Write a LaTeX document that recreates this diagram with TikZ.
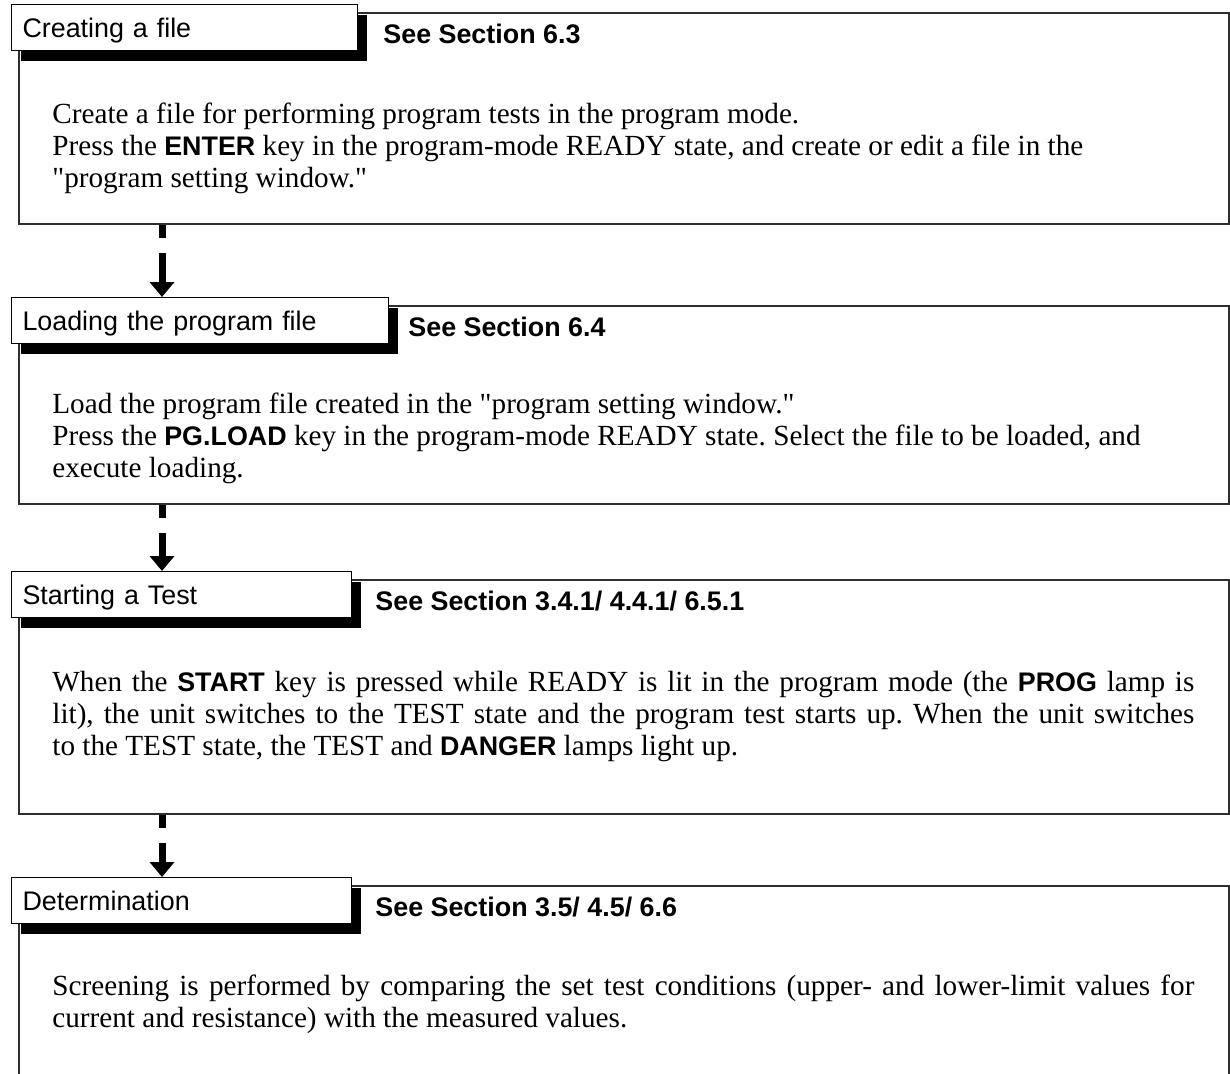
\documentclass[tikz,border=0pt]{standalone}
\usepackage{fontspec}
\setmainfont{Liberation Serif}[Ligatures=TeXOff]
\setsansfont{Liberation Sans}[Scale=0.92]
\usetikzlibrary{arrows.meta,shadows}

\definecolor{framegray}{HTML}{2E2E2E}
\newcommand\bodyfont{\fontsize{14.6pt}{16pt}\selectfont}
\newcommand\keyname[1]{\textsf{\bfseries #1}}
\setlength\parindent{0pt}
\frenchspacing

\tikzset{
  bodybox/.style={draw=framegray, line width=1pt, anchor=north west, minimum width=605pt, inner sep=0pt},
  tabbox/.style={draw=black, fill=white, line width=0.5pt, anchor=north west, text width=#1, align=left,
    minimum height=23pt, inner xsep=5.5pt, inner ysep=0pt, text height=10pt, text depth=0pt, font=\bodyfont\sffamily,
    drop shadow={shadow xshift=4.5pt, shadow yshift=-5pt, fill=black, opacity=1}},
  reftext/.style={anchor=base west, inner sep=0pt, font=\bodyfont\sffamily\bfseries},
  bodytext/.style={anchor=north west, inner sep=0pt, text width=571pt, align=justify, font=\bodyfont},
  flowarrow/.style={line width=3.5pt, dash pattern=on 6.5pt off 7.5pt on 80pt, -{Triangle[width=12pt,length=7.5pt]}}
}

\begin{document}
\begin{tikzpicture}[x=0.5pt, y=-0.5pt]
  \useasboundingbox (0,0) rectangle (1230,1073);

  % frames of the four steps
  \node[bodybox, minimum height=105.5pt] (body1) at (18,12) {};
  \node[bodybox, minimum height=99pt] (body2) at (18,305) {};
  \node[bodybox, minimum height=117pt] (body3) at (18,579) {};
  \node[bodybox, minimum height=103pt] (body4) at (18,885) {};

  % title tabs (with shadow)
  \node[tabbox=162pt] (tab1) at (11,4) {Creating a file};
  \node[tabbox=177.5pt] (tab2) at (11,297) {Loading the program file};
  \node[tabbox=159pt] (tab3) at (11,571) {Starting a Test};
  \node[tabbox=159pt] (tab4) at (11,877) {Determination};

  % section references
  \node[reftext] (ref1) at (383,43) {See Section 6.3};
  \node[reftext] (ref2) at (408,336) {See Section 6.4};
  \node[reftext] (ref3) at (375,610) {See Section 3.4.1/ 4.4.1/ 6.5.1};
  \node[reftext] (ref4) at (375,916) {See Section 3.5/ 4.5/ 6.6};

  % descriptions
  \node[bodytext] (text1) at (52,103) {Create a file for performing program tests in the program mode.\\
    Press the \keyname{ENTER} key in the program-mode READY state, and create or edit a file in the\\
    "program setting window."};
  \node[bodytext] (text2) at (52,393) {Load the program file created in the "program setting window."\\
    Press the \keyname{PG.LOAD} key in the program-mode READY state. Select the file to be loaded, and\\
    execute loading.};
  \node[bodytext] (text3) at (52,671) {When the \keyname{START} key is pressed while READY is lit in the program mode (the \keyname{PROG} lamp is\linebreak
    lit), the unit switches to the TEST state and the program test starts up. When the unit switches\linebreak
    to the TEST state, the TEST and \keyname{DANGER} lamps light up.};
  \node[bodytext] (text4) at (52,975) {Screening is performed by comparing the set test conditions (upper- and lower-limit values for\linebreak
    current and resistance) with the measured values.};

  % flow arrows
  \coordinate (flow) at (162,0);
  \draw[flowarrow] (body1.south -| flow) -- (tab2.north -| flow);
  \draw[flowarrow] (body2.south -| flow) -- (tab3.north -| flow);
  \draw[flowarrow] (body3.south -| flow) -- (tab4.north -| flow);
\end{tikzpicture}
\end{document}
